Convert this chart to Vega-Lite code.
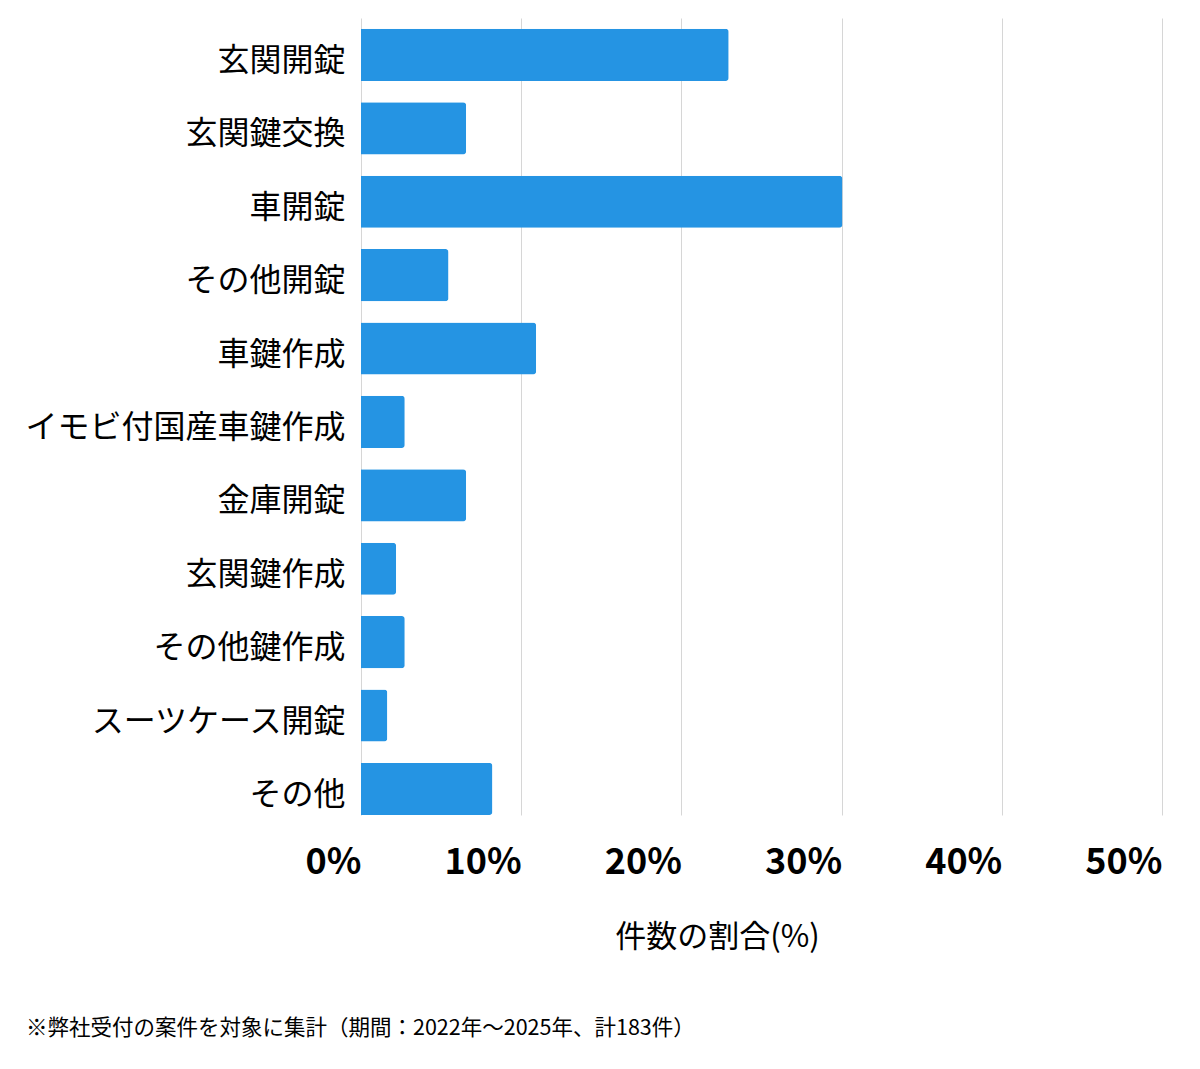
{
  "$schema": "https://vega.github.io/schema/vega-lite/v6.json",
  "width": 801,
  "height": 797,
  "autosize": {"type": "none"},
  "padding": {"left": 361, "top": 18, "right": 38, "bottom": 254},
  "background": "white",
  "title": {
    "text": "※弊社受付の案件を対象に集計（期間：2022年～2025年、計183件）",
    "orient": "bottom",
    "anchor": "start",
    "frame": "group",
    "dx": -335,
    "offset": 66,
    "font": "Noto Sans CJK JP",
    "fontSize": 21.5,
    "fontWeight": "normal",
    "color": "#000000"
  },
  "data": {
    "values": [
      {"category": "玄関開錠", "count": 42, "pct": 22.95},
      {"category": "玄関鍵交換", "count": 12, "pct": 6.56},
      {"category": "車開錠", "count": 55, "pct": 30.05},
      {"category": "その他開錠", "count": 10, "pct": 5.46},
      {"category": "車鍵作成", "count": 20, "pct": 10.93},
      {"category": "イモビ付国産車鍵作成", "count": 5, "pct": 2.73},
      {"category": "金庫開錠", "count": 12, "pct": 6.56},
      {"category": "玄関鍵作成", "count": 4, "pct": 2.19},
      {"category": "その他鍵作成", "count": 5, "pct": 2.73},
      {"category": "スーツケース開錠", "count": 3, "pct": 1.64},
      {"category": "その他", "count": 15, "pct": 8.2}
    ]
  },
  "mark": {"type": "bar", "color": "#2594e3", "cornerRadiusEnd": 3},
  "encoding": {
    "y": {
      "field": "category",
      "type": "nominal",
      "sort": null,
      "scale": {"paddingInner": 0.29, "paddingOuter": 0.074, "align": 1},
      "axis": {
        "title": null,
        "domain": false,
        "ticks": false,
        "grid": false,
        "labelPadding": 16,
        "labelOffset": 6,
        "labelFont": "Noto Sans CJK JP",
        "labelFontSize": 32,
        "labelColor": "#000000",
        "labelLimit": 400
      }
    },
    "x": {
      "field": "pct",
      "type": "quantitative",
      "scale": {"domain": [0, 50], "nice": false},
      "axis": {
        "title": "件数の割合(%)",
        "values": [0, 10, 20, 30, 40, 50],
        "labelExpr": "datum.value + '%'",
        "domain": false,
        "ticks": false,
        "grid": true,
        "gridColor": "#d6d6d6",
        "gridWidth": 1,
        "labelAlign": "right",
        "labelBaseline": "middle",
        "labelPadding": 47,
        "labelFont": "Noto Sans CJK JP",
        "labelFontSize": 36,
        "labelFontWeight": "bold",
        "labelColor": "#000000",
        "labelFlush": false,
        "labelOverlap": false,
        "titleFont": "Noto Sans CJK JP",
        "titleFontSize": 31,
        "titleFontWeight": "normal",
        "titleColor": "#000000",
        "titlePadding": 42,
        "titleX": 356,
        "titleAnchor": "middle",
        "titleAlign": "center"
      }
    }
  },
  "config": {"view": {"stroke": null}}
}
